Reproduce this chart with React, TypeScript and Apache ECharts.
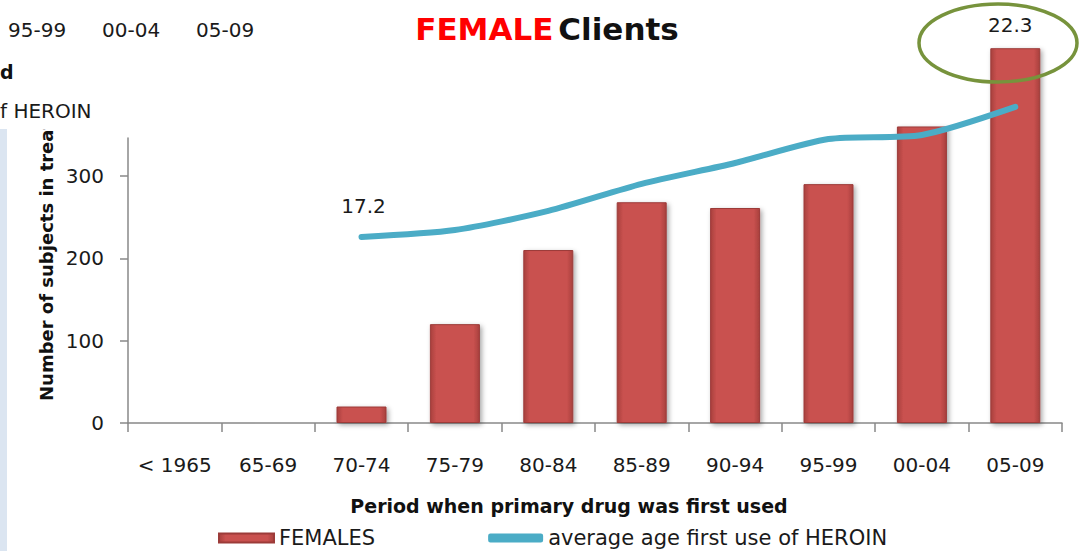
import React, { useEffect, useRef } from 'react';
import * as echarts from 'echarts';

const categories = ['< 1965', '65-69', '70-74', '75-79', '80-84', '85-89', '90-94', '95-99', '00-04', '05-09'];
const females = [0, 1, 20, 120, 210, 268, 261, 290, 360, 455];
const avgAge: (number | null)[] = [null, null, 17.2, 17.47, 18.22, 19.28, 20.1, 21.04, 21.2, 22.3];
const yTicks = [0, 100, 200, 300];
const labeledIdx = [2, 9];
const remnantTicks = ['95-99', '00-04', '05-09'];

const FONT = '"DejaVu Sans", "Open Sans", sans-serif';

export default function App() {
  const ref = useRef<HTMLDivElement>(null);
  useEffect(() => {
    if (!ref.current) return;
    const chart = echarts.init(ref.current, null, { renderer: 'svg' });
    const lineData = avgAge.map((v, i) => {
      if (labeledIdx.indexOf(i) < 0) return v;
      const last = i === avgAge.length - 1;
      return {
        value: v,
        label: {
          show: true,
          position: 'top',
          offset: last ? [-5, -66] : [2, -15],
          fontSize: 20,
          color: '#1a1a1a',
          fontFamily: FONT,
        },
      };
    });
    const option: any = {
      animation: false,
      backgroundColor: '#ffffff',
      title: {
        text: '{r|FEMALE} {b|Clients}',
        left: 542,
        textAlign: 'center',
        top: 8,
        textStyle: {
          rich: {
            r: { color: '#ff0000', fontSize: 31, fontWeight: 'bold', fontFamily: FONT },
            b: { color: '#111111', fontSize: 31, fontWeight: 'bold', fontFamily: FONT },
          },
        },
      },
      grid: { left: 128, right: 20, top: 138, bottom: 128, containLabel: false },
      legend: {
        left: 218,
        top: 527,
        padding: 0,
        itemWidth: 55,
        itemHeight: 9,
        itemGap: 113,
        textStyle: { fontSize: 21, lineHeight: 22, color: '#1a1a1a', fontFamily: FONT },
        data: [
          { name: 'FEMALES', icon: 'rect' },
          { name: 'average age first use of HEROIN', icon: 'roundRect' },
        ],
      },
      xAxis: {
        type: 'category',
        data: categories,
        boundaryGap: true,
        axisLine: { lineStyle: { color: '#888888', width: 1.5 } },
        axisTick: { show: true, interval: 0, length: 9, lineStyle: { color: '#888888', width: 1.5 } },
        axisLabel: { interval: 0, fontSize: 20, color: '#1a1a1a', margin: 32, fontFamily: FONT },
      },
      yAxis: [
        {
          type: 'value',
          min: 0,
          max: 346,
          splitLine: { show: false },
          axisLine: { show: true, lineStyle: { color: '#888888', width: 1.5 } },
          axisTick: { show: true, inside: false, length: 8, customValues: yTicks, lineStyle: { color: '#888888', width: 1.5 } },
          axisLabel: { customValues: yTicks, fontSize: 20, color: '#1a1a1a', margin: 24, fontFamily: FONT },
        },
        {
          type: 'value',
          min: 9.903,
          max: 21.08,
          show: false,
          splitLine: { show: false },
        },
      ],
      series: [
        {
          name: 'FEMALES',
          type: 'bar',
          data: females,
          barWidth: 50,
          clip: false,
          itemStyle: {
            color: new echarts.graphic.LinearGradient(0, 0, 1, 0, [
              { offset: 0, color: '#a8403d' },
              { offset: 0.12, color: '#c9514f' },
              { offset: 0.88, color: '#c9514f' },
              { offset: 1, color: '#a8403d' },
            ]),
            borderColor: '#9c3b39',
            borderWidth: 1,
            shadowColor: 'rgba(0,0,0,0.35)',
            shadowBlur: 5,
            shadowOffsetX: 2,
            shadowOffsetY: 2,
          },
        },
        {
          name: 'average age first use of HEROIN',
          type: 'line',
          yAxisIndex: 1,
          data: lineData,
          clip: false,
          smooth: 0.25,
          symbol: 'circle',
          symbolSize: 1,
          showSymbol: true,
          connectNulls: false,
          lineStyle: { color: '#4bacc6', width: 6, cap: 'round' },
          itemStyle: { color: '#4bacc6' },
        },
      ],
      graphic: [
        { type: 'rect', shape: { x: 0, y: 128, width: 7, height: 423 }, style: { fill: '#dbe5f1' }, z: 10 },
        {
          type: 'text',
          x: 46,
          y: 401,
          rotation: Math.PI / 2,
          style: { text: 'Number of subjects in treatment', fontSize: 18, fontWeight: 'bold', fill: '#111111', fontFamily: FONT, textAlign: 'left', textVerticalAlign: 'middle' },
          z: 10,
        },
        { type: 'rect', shape: { x: 0, y: 0, width: 124, height: 129 }, style: { fill: '#ffffff' }, z: 20 },
        ...remnantTicks.map((t, i) => ({
          type: 'text',
          x: 8 + i * 94,
          y: 30,
          style: { text: t, fontSize: 20, fill: '#1a1a1a', fontFamily: FONT, textAlign: 'left', textVerticalAlign: 'middle' },
          z: 21,
        })),
        { type: 'text', x: 0, y: 72, style: { text: 'd', fontSize: 19, fontWeight: 'bold', fill: '#111111', fontFamily: FONT, textAlign: 'left', textVerticalAlign: 'middle' }, z: 21 },
        { type: 'text', x: 0, y: 111, style: { text: 'f HEROIN', fontSize: 20, fill: '#1a1a1a', fontFamily: FONT, textAlign: 'left', textVerticalAlign: 'middle' }, z: 21 },
        {
          type: 'text',
          x: 569,
          y: 506,
          style: { text: 'Period when primary drug was first used', fontSize: 19, fontWeight: 'bold', fill: '#111111', fontFamily: FONT, textAlign: 'center', textVerticalAlign: 'middle' },
          z: 10,
        },
        {
          type: 'ellipse',
          shape: { cx: 998, cy: 43, rx: 79, ry: 39 },
          style: { fill: 'none', stroke: '#77933c', lineWidth: 3.5 },
          z: 30,
        },
      ],
    };
    chart.setOption(option);
    return () => chart.dispose();
  }, []);
  return <div ref={ref} style={{ position: 'fixed', left: 0, top: 0, width: 1082, height: 551 }} />;
}
